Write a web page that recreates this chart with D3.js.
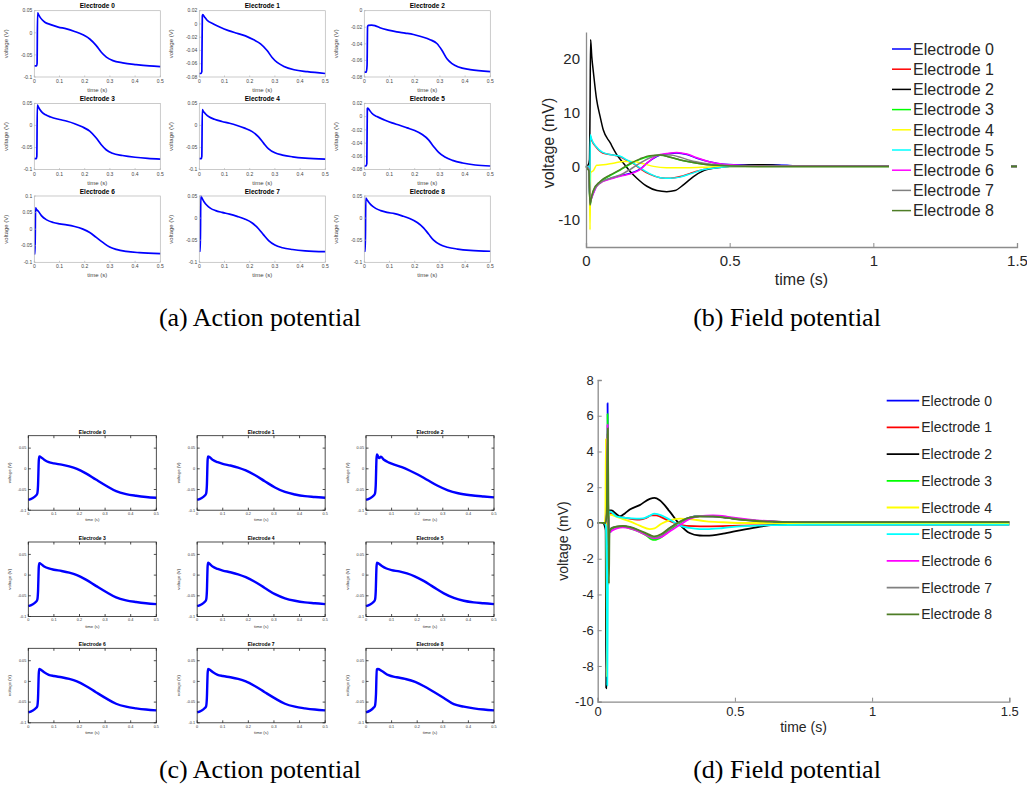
<!DOCTYPE html>
<html>
<head>
<meta charset="utf-8">
<script src="https://cdn.jsdelivr.net/npm/d3@7"></script>
<style>
  body { margin: 0; background: #fff; }
  svg { display: block; }
</style>
</head>
<body>
<script>
// ---------- labels ----------
const electrodeNames = ["Electrode 0","Electrode 1","Electrode 2","Electrode 3","Electrode 4",
                        "Electrode 5","Electrode 6","Electrode 7","Electrode 8"];
const seriesColors = ["#0000ff","#ff0000","#000000","#00ff00","#ffff00","#00ffff","#ff00ff","#808080","#4e7d26"];
const captions = ["(a) Action potential","(b) Field potential","(c) Action potential","(d) Field potential"];

// ---------- panel (a): action potentials, [time s, voltage V] ----------
const apA0 = [[0,-0.075],[0.009,-0.075],[0.011,-0.07],[0.013,0.045],[0.016,0.042],[0.022,0.036],[0.032,0.029],[0.042,0.024],[0.062,0.019],[0.095,0.013],[0.128,0.009],[0.16,0.003],[0.193,-0.0045],[0.22,-0.014],[0.246,-0.029],[0.266,-0.044],[0.286,-0.055],[0.312,-0.063],[0.351,-0.068],[0.404,-0.072],[0.457,-0.075],[0.5,-0.0765]];
const apA1 = [[0,-0.0747],[0.007,-0.0747],[0.010,-0.072],[0.012,0.012],[0.014,0.014],[0.02,0.011],[0.03,0.006],[0.056,0],[0.083,-0.005],[0.116,-0.010],[0.149,-0.014],[0.183,-0.018],[0.216,-0.024],[0.243,-0.030],[0.269,-0.040],[0.289,-0.0505],[0.309,-0.058],[0.336,-0.064],[0.376,-0.069],[0.429,-0.072],[0.5,-0.0747]];
const apA2 = [[0,-0.074],[0.008,-0.074],[0.011,-0.066],[0.013,-0.019],[0.016,-0.0178],[0.029,-0.0174],[0.042,-0.018],[0.062,-0.0206],[0.095,-0.0234],[0.129,-0.0255],[0.162,-0.027],[0.195,-0.0287],[0.228,-0.0315],[0.261,-0.035],[0.288,-0.0396],[0.308,-0.0477],[0.328,-0.058],[0.348,-0.0638],[0.374,-0.068],[0.42,-0.071],[0.5,-0.0735]];
const apA3 = [[0,-0.075],[0.008,-0.075],[0.010,-0.07],[0.012,0.046],[0.015,0.043],[0.022,0.036],[0.032,0.029],[0.045,0.024],[0.065,0.019],[0.1,0.0135],[0.13,0.0095],[0.16,0.004],[0.19,-0.003],[0.22,-0.013],[0.245,-0.028],[0.265,-0.043],[0.285,-0.055],[0.31,-0.063],[0.35,-0.068],[0.4,-0.072],[0.45,-0.0745],[0.5,-0.076]];
const apA4 = [[0,-0.075],[0.008,-0.075],[0.010,-0.07],[0.012,0.036],[0.015,0.033],[0.025,0.026],[0.04,0.019],[0.06,0.014],[0.09,0.009],[0.12,0.005],[0.15,0.0],[0.18,-0.006],[0.21,-0.014],[0.235,-0.026],[0.255,-0.04],[0.275,-0.053],[0.3,-0.062],[0.33,-0.067],[0.37,-0.071],[0.42,-0.074],[0.5,-0.076]];
const apA5 = [[0,-0.0745],[0.007,-0.0745],[0.010,-0.071],[0.012,0.012],[0.014,0.013],[0.02,0.010],[0.03,0.005],[0.05,0.0],[0.08,-0.005],[0.11,-0.0095],[0.14,-0.013],[0.17,-0.017],[0.2,-0.021],[0.23,-0.027],[0.255,-0.035],[0.275,-0.045],[0.295,-0.054],[0.32,-0.061],[0.35,-0.066],[0.39,-0.07],[0.44,-0.073],[0.5,-0.0745]];
const apA6 = [[0,-0.075],[0.003,-0.075],[0.005,0.064],[0.008,0.06],[0.016,0.054],[0.029,0.04],[0.049,0.028],[0.075,0.02],[0.101,0.016],[0.128,0.013],[0.16,0.008],[0.193,0],[0.22,-0.01],[0.246,-0.025],[0.272,-0.04],[0.299,-0.054],[0.325,-0.061],[0.364,-0.067],[0.417,-0.071],[0.5,-0.074]];
const apA7 = [[0,-0.075],[0.004,-0.075],[0.006,0.05],[0.01,0.046],[0.02,0.036],[0.03,0.029],[0.045,0.022],[0.065,0.017],[0.09,0.013],[0.12,0.009],[0.15,0.004],[0.18,-0.002],[0.21,-0.011],[0.235,-0.024],[0.255,-0.038],[0.275,-0.051],[0.3,-0.061],[0.33,-0.067],[0.37,-0.071],[0.42,-0.074],[0.5,-0.076]];
const apA8 = [[0,-0.075],[0.004,-0.075],[0.006,0.045],[0.01,0.042],[0.02,0.034],[0.03,0.028],[0.045,0.022],[0.065,0.017],[0.09,0.013],[0.12,0.01],[0.15,0.005],[0.18,-0.001],[0.21,-0.01],[0.235,-0.022],[0.255,-0.036],[0.275,-0.05],[0.3,-0.06],[0.33,-0.066],[0.37,-0.07],[0.42,-0.073],[0.5,-0.075]];
const apASeries = [apA0, apA1, apA2, apA3, apA4, apA5, apA6, apA7, apA8];
const apAYDomains = [[-0.1,0.05],[-0.08,0.02],[-0.08,0],[-0.1,0.05],[-0.1,0.05],[-0.08,0.02],[-0.1,0.1],[-0.1,0.05],[-0.1,0.05]];
const apAYTicks = [[-0.1,-0.05,0,0.05],[-0.08,-0.06,-0.04,-0.02,0,0.02],[-0.08,-0.06,-0.04,-0.02,0],
                   [-0.1,-0.05,0,0.05],[-0.1,-0.05,0,0.05],[-0.08,-0.06,-0.04,-0.02,0,0.02],
                   [-0.1,-0.05,0,0.05,0.1],[-0.1,-0.05,0,0.05],[-0.1,-0.05,0,0.05]];
const apXTicks = [0,0.1,0.2,0.3,0.4,0.5];

// ---------- panel (c): action potentials, [time s, voltage V] ----------
const apC0 = [[0,-0.075],[0.016,-0.071],[0.029,-0.065],[0.035,-0.06],[0.038,-0.04],[0.041,0.02],[0.043,0.03],[0.047,0.029],[0.062,0.022],[0.08,0.016],[0.1,0.013],[0.13,0.01],[0.16,0.006],[0.19,0.0],[0.225,-0.011],[0.264,-0.026],[0.304,-0.041],[0.343,-0.054],[0.382,-0.061],[0.421,-0.065],[0.46,-0.068],[0.5,-0.07]];
const apC1 = [[0,-0.075],[0.016,-0.071],[0.029,-0.065],[0.035,-0.06],[0.038,-0.04],[0.041,0.022],[0.043,0.03],[0.047,0.029],[0.062,0.021],[0.08,0.016],[0.1,0.012],[0.13,0.008],[0.16,0.003],[0.19,-0.004],[0.225,-0.015],[0.264,-0.03],[0.304,-0.045],[0.343,-0.056],[0.382,-0.062],[0.421,-0.066],[0.46,-0.068],[0.5,-0.07]];
const apC2 = [[0,-0.075],[0.016,-0.071],[0.029,-0.065],[0.035,-0.06],[0.038,-0.04],[0.041,0.025],[0.043,0.035],[0.047,0.03],[0.052,0.026],[0.058,0.029],[0.07,0.022],[0.09,0.015],[0.11,0.01],[0.14,0.004],[0.17,-0.004],[0.2,-0.013],[0.24,-0.027],[0.28,-0.041],[0.32,-0.052],[0.36,-0.059],[0.41,-0.064],[0.46,-0.067],[0.5,-0.069]];
const apC3 = [[0,-0.075],[0.016,-0.071],[0.029,-0.065],[0.035,-0.06],[0.038,-0.04],[0.041,0.02],[0.043,0.029],[0.047,0.028],[0.062,0.021],[0.08,0.016],[0.1,0.013],[0.13,0.01],[0.16,0.006],[0.19,0.0],[0.225,-0.011],[0.264,-0.026],[0.304,-0.041],[0.343,-0.054],[0.382,-0.061],[0.421,-0.065],[0.46,-0.068],[0.5,-0.07]];
const apC4 = [[0,-0.075],[0.016,-0.071],[0.029,-0.065],[0.035,-0.06],[0.038,-0.04],[0.041,0.022],[0.043,0.03],[0.047,0.028],[0.062,0.02],[0.08,0.015],[0.1,0.011],[0.13,0.007],[0.16,0.002],[0.19,-0.005],[0.225,-0.016],[0.264,-0.031],[0.304,-0.046],[0.343,-0.056],[0.382,-0.062],[0.421,-0.066],[0.46,-0.068],[0.5,-0.07]];
const apC5 = [[0,-0.075],[0.016,-0.071],[0.029,-0.065],[0.035,-0.06],[0.038,-0.04],[0.041,0.02],[0.043,0.03],[0.047,0.029],[0.062,0.022],[0.08,0.016],[0.1,0.012],[0.13,0.009],[0.16,0.004],[0.19,-0.003],[0.225,-0.014],[0.264,-0.029],[0.304,-0.044],[0.343,-0.055],[0.382,-0.062],[0.421,-0.066],[0.46,-0.068],[0.5,-0.07]];
const apC6 = [[0,-0.075],[0.016,-0.071],[0.029,-0.065],[0.035,-0.06],[0.038,-0.04],[0.041,0.02],[0.043,0.03],[0.047,0.029],[0.062,0.022],[0.08,0.016],[0.1,0.013],[0.13,0.01],[0.16,0.006],[0.19,0.0],[0.225,-0.011],[0.264,-0.026],[0.304,-0.041],[0.343,-0.054],[0.382,-0.061],[0.421,-0.065],[0.46,-0.068],[0.5,-0.07]];
const apC7 = [[0,-0.075],[0.016,-0.071],[0.029,-0.065],[0.035,-0.06],[0.038,-0.04],[0.041,0.02],[0.043,0.03],[0.047,0.029],[0.062,0.022],[0.08,0.016],[0.1,0.013],[0.13,0.01],[0.16,0.006],[0.19,0.0],[0.225,-0.011],[0.264,-0.026],[0.304,-0.041],[0.343,-0.054],[0.382,-0.061],[0.421,-0.065],[0.46,-0.068],[0.5,-0.07]];
const apC8 = [[0,-0.0746],[0.016,-0.0706],[0.029,-0.064],[0.035,-0.059],[0.039,-0.031],[0.042,0.029],[0.046,0.030],[0.062,0.025],[0.088,0.015],[0.12,0.010],[0.153,0.006],[0.192,-0.001],[0.225,-0.011],[0.264,-0.025],[0.304,-0.040],[0.343,-0.055],[0.382,-0.061],[0.421,-0.065],[0.46,-0.068],[0.5,-0.070]];
const apCSeries = [apC0, apC1, apC2, apC3, apC4, apC5, apC6, apC7, apC8];
const apCYDomain = [-0.1, 0.08];
const apCYTicks = [-0.1,-0.05,0,0.05];

// ---------- panel (b): field potentials, [time s, voltage mV] ----------
const fpB0 = [[0,0],[0.010,-0.5],[0.014,-6.6],[0.016,-6.3],[0.026,-4.9],[0.037,-3.6],[0.06,-2.7],[0.095,-2.1],[0.13,-1.6],[0.165,-1.1],[0.188,-0.5],[0.212,0.6],[0.235,1.5],[0.258,2.1],[0.281,2.3],[0.316,2.5],[0.351,2.2],[0.386,1.5],[0.433,0.8],[0.479,0.4],[0.55,0.25],[0.62,0.3],[0.7,0.2],[0.75,0.05],[1.5,0]];
const fpB1 = [[0,0],[0.010,0],[0.013,-5],[0.015,5.6],[0.02,4.8],[0.035,3.6],[0.058,2.5],[0.095,2.1],[0.119,1.8],[0.142,1.1],[0.165,0.5],[0.188,-0.4],[0.223,-1.5],[0.258,-2.1],[0.293,-2.2],[0.328,-1.9],[0.363,-1.3],[0.41,-0.6],[0.467,-0.2],[0.5,0],[1.5,0]];
const fpB2 = [[0,0],[0.008,0.3],[0.012,1.2],[0.014,10],[0.016,23.6],[0.02,20.5],[0.026,17.4],[0.037,12.4],[0.049,9.3],[0.06,6.8],[0.084,4.4],[0.107,2.2],[0.13,0.6],[0.153,-0.9],[0.177,-2.2],[0.212,-3.7],[0.247,-4.5],[0.281,-4.7],[0.31,-4.5],[0.34,-3.4],[0.374,-1.9],[0.41,-0.8],[0.456,-0.2],[0.5,0],[0.6,0.3],[0.65,0.25],[0.7,0.05],[1.5,0.05]];
const fpB3 = [[0,0],[0.010,-0.6],[0.014,-7.4],[0.016,-6.8],[0.026,-4.5],[0.049,-2.9],[0.084,-1.7],[0.119,-0.7],[0.153,0.4],[0.188,1.3],[0.223,1.9],[0.258,2.05],[0.293,1.7],[0.328,1.2],[0.363,0.8],[0.41,0.4],[0.467,0.15],[0.5,0.05],[1.5,0]];
const fpB4 = [[0,0],[0.008,-0.3],[0.012,-1.2],[0.014,-11.8],[0.016,-1.2],[0.026,-0.75],[0.037,0.2],[0.06,0.3],[0.095,0.6],[0.13,0.9],[0.165,0.9],[0.2,0.5],[0.235,0],[0.28,-0.25],[0.351,-0.25],[0.43,-0.1],[0.5,0],[1.5,0]];
const fpB5 = [[0,0],[0.010,0],[0.013,-6],[0.015,5.9],[0.02,5.0],[0.035,3.7],[0.058,2.6],[0.095,2.1],[0.119,1.9],[0.142,1.2],[0.165,0.6],[0.188,-0.3],[0.223,-1.4],[0.258,-2.1],[0.293,-2.2],[0.328,-2.0],[0.363,-1.4],[0.41,-0.6],[0.467,-0.2],[0.5,0],[1.5,0]];
const fpB6 = [[0,0],[0.010,-0.5],[0.014,-6.8],[0.016,-6.5],[0.026,-5.0],[0.037,-3.7],[0.06,-2.8],[0.095,-2.2],[0.13,-1.7],[0.165,-1.2],[0.188,-0.6],[0.212,0.6],[0.235,1.6],[0.258,2.2],[0.281,2.4],[0.316,2.6],[0.351,2.3],[0.386,1.6],[0.433,0.8],[0.479,0.4],[0.5,0.3],[0.595,0.1],[0.7,0.05],[1.5,0]];
const fpB7 = [[0,0],[0.010,-0.5],[0.014,-7],[0.016,-6.5],[0.026,-4.7],[0.049,-3.1],[0.084,-2.2],[0.119,-1.6],[0.153,-0.6],[0.188,0.6],[0.223,1.6],[0.258,2.1],[0.293,2.1],[0.328,1.7],[0.363,1.1],[0.41,0.6],[0.467,0.25],[0.5,0.15],[0.6,0.05],[1.5,0]];
const fpB8 = [[0,0],[0.005,-0.5],[0.010,-0.8],[0.014,-7.2],[0.016,-6.6],[0.026,-4.4],[0.049,-2.8],[0.084,-1.6],[0.119,-0.6],[0.153,0.5],[0.188,1.4],[0.223,2.0],[0.258,2.1],[0.293,1.7],[0.328,1.2],[0.363,0.8],[0.41,0.4],[0.467,0.15],[0.5,0.08],[0.6,0],[1.5,0]];
const fpBSeries = [fpB0, fpB1, fpB2, fpB3, fpB4, fpB5, fpB6, fpB7, fpB8];
const fpBYTicks = [-10, 0, 10, 20];

// ---------- panel (d): field potentials, [time s, voltage mV] ----------
const fpD0 = [[0,0],[0.025,0],[0.031,-0.3],[0.034,-3],[0.036,6.7],[0.038,1],[0.041,-0.3],[0.046,-0.5],[0.055,-0.3],[0.068,-0.22],[0.092,-0.19],[0.117,-0.25],[0.153,-0.47],[0.177,-0.65],[0.195,-0.8],[0.207,-0.85],[0.232,-0.7],[0.262,-0.3],[0.3,0.05],[0.335,0.3],[0.371,0.38],[0.42,0.37],[0.47,0.3],[0.518,0.2],[0.579,0.12],[0.64,0.07],[0.7,0.04],[1.5,0.04]];
const fpD1 = [[0,0],[0.025,0],[0.031,-0.2],[0.034,2],[0.036,5],[0.038,-2],[0.04,0.3],[0.045,0.56],[0.068,0.4],[0.104,0.28],[0.153,0.19],[0.177,0.28],[0.195,0.43],[0.214,0.42],[0.25,0.19],[0.3,-0.1],[0.35,-0.18],[0.397,-0.19],[0.518,-0.15],[0.64,-0.11],[0.76,-0.1],[1.5,-0.1]];
const fpD2 = [[0,0],[0.02,0],[0.026,-0.2],[0.029,-0.4],[0.031,-9.25],[0.034,-1],[0.037,0.6],[0.043,0.7],[0.05,0.7],[0.068,0.5],[0.08,0.37],[0.1,0.55],[0.117,0.75],[0.153,1.0],[0.19,1.35],[0.207,1.4],[0.226,1.27],[0.262,0.65],[0.3,-0.1],[0.335,-0.56],[0.371,-0.7],[0.397,-0.71],[0.457,-0.6],[0.518,-0.41],[0.579,-0.24],[0.64,-0.11],[0.7,-0.06],[0.76,-0.04],[1.5,-0.04]];
const fpD3 = [[0,0],[0.028,0],[0.033,0.5],[0.036,6.1],[0.038,1],[0.04,-0.5],[0.043,-0.45],[0.055,-0.3],[0.068,-0.22],[0.092,-0.2],[0.117,-0.3],[0.153,-0.5],[0.177,-0.7],[0.195,-0.9],[0.207,-0.95],[0.232,-0.8],[0.262,-0.4],[0.3,0.0],[0.335,0.28],[0.371,0.38],[0.42,0.4],[0.47,0.33],[0.518,0.22],[0.579,0.13],[0.64,0.08],[0.7,0.05],[1.5,0.05]];
const fpD4 = [[0,0],[0.025,0],[0.028,0.5],[0.030,4.7],[0.032,-2],[0.034,-8.6],[0.036,-1],[0.039,0.3],[0.043,0.47],[0.08,0.28],[0.117,0.09],[0.153,-0.15],[0.19,-0.34],[0.207,-0.3],[0.232,-0.04],[0.262,0.15],[0.3,0.24],[0.335,0.22],[0.397,0.09],[0.457,0.04],[0.518,0.0],[1.5,0]];
const fpD5 = [[0,0],[0.025,0],[0.03,-0.2],[0.033,-3],[0.035,-9.1],[0.037,-3.4],[0.039,0.3],[0.043,0.65],[0.05,0.6],[0.068,0.37],[0.104,0.28],[0.141,0.24],[0.165,0.26],[0.19,0.41],[0.207,0.52],[0.232,0.43],[0.262,0.19],[0.3,-0.15],[0.335,-0.28],[0.371,-0.34],[0.397,-0.34],[0.457,-0.28],[0.518,-0.19],[0.64,-0.12],[0.76,-0.1],[1.5,-0.1]];
const fpD6 = [[0,0],[0.028,0],[0.033,0.5],[0.036,5.5],[0.038,1],[0.04,-0.5],[0.045,-0.5],[0.055,-0.4],[0.07,-0.3],[0.092,-0.25],[0.117,-0.3],[0.153,-0.5],[0.177,-0.68],[0.195,-0.82],[0.207,-0.86],[0.232,-0.78],[0.262,-0.48],[0.3,-0.1],[0.335,0.22],[0.371,0.38],[0.42,0.42],[0.47,0.36],[0.518,0.25],[0.579,0.15],[0.64,0.09],[0.7,0.06],[1.5,0.05]];
const fpD7 = [[0,0],[0.028,0],[0.033,0.5],[0.036,5.0],[0.038,0.5],[0.04,-1.5],[0.043,-0.4],[0.055,-0.25],[0.068,-0.2],[0.092,-0.18],[0.117,-0.25],[0.153,-0.45],[0.177,-0.62],[0.195,-0.76],[0.207,-0.8],[0.232,-0.68],[0.262,-0.32],[0.3,0.05],[0.335,0.3],[0.371,0.38],[0.42,0.37],[0.47,0.3],[0.518,0.2],[0.579,0.12],[0.64,0.07],[0.7,0.05],[1.5,0.05]];
const fpD8 = [[0,0],[0.028,0],[0.033,0.5],[0.037,5.3],[0.039,1],[0.041,-3.4],[0.043,-0.5],[0.05,-0.3],[0.068,-0.2],[0.092,-0.17],[0.117,-0.22],[0.153,-0.42],[0.177,-0.58],[0.195,-0.7],[0.207,-0.75],[0.232,-0.62],[0.262,-0.28],[0.3,0.08],[0.335,0.3],[0.371,0.36],[0.42,0.35],[0.47,0.28],[0.518,0.19],[0.579,0.11],[0.64,0.07],[0.7,0.05],[1.5,0.05]];
const fpDSeries = [fpD0, fpD1, fpD2, fpD3, fpD4, fpD5, fpD6, fpD7, fpD8];
const fpDYTicks = [-10,-8,-6,-4,-2,0,2,4,6,8];
const fpXTicks = [0, 0.5, 1, 1.5];

// ---------- drawing ----------
const svg = d3.select("body").append("svg").attr("width", 1027).attr("height", 789);
const SANS = "'Liberation Sans', Arial, Helvetica, sans-serif";
const fmt = v => String(+v.toFixed(3));

// one small action-potential plot (panels a and c)
function miniPlot(g, o) {
  const x = d3.scaleLinear().domain([0, 0.5]).range([o.left, o.left + o.w]);
  const y = d3.scaleLinear().domain(o.yDomain).range([o.top + o.h, o.top]);
  const bottom = o.top + o.h, right = o.left + o.w;

  const line = d3.line().x(d => x(d[0])).y(d => y(d[1])).curve(d3.curveMonotoneX);
  g.append("path").datum(o.data).attr("d", line)
    .attr("fill", "none").attr("stroke", "#0000ff").attr("stroke-width", o.lw)
    .attr("stroke-linejoin", "round");

  // frame
  g.append("rect").attr("x", o.left).attr("y", o.top).attr("width", o.w).attr("height", o.h)
    .attr("fill", "none").attr("stroke", o.frame).attr("stroke-width", o.frameW);

  // ticks drawn inward
  const tk = g.append("g").attr("stroke", o.frame).attr("stroke-width", o.frameW);
  apXTicks.forEach(t => {
    tk.append("line").attr("x1", x(t)).attr("x2", x(t)).attr("y1", bottom).attr("y2", bottom - o.tick);
    if (o.allSides) tk.append("line").attr("x1", x(t)).attr("x2", x(t)).attr("y1", o.top).attr("y2", o.top + o.tick);
  });
  o.yTicks.forEach(v => {
    tk.append("line").attr("x1", o.left).attr("x2", o.left + o.tick).attr("y1", y(v)).attr("y2", y(v));
    if (o.allSides) tk.append("line").attr("x1", right).attr("x2", right - o.tick).attr("y1", y(v)).attr("y2", y(v));
  });

  const txt = g.append("g").attr("font-family", SANS).attr("fill", o.textFill);
  apXTicks.forEach(t => txt.append("text").attr("x", x(t)).attr("y", bottom + o.tickFs + 1)
    .attr("text-anchor", "middle").attr("font-size", o.tickFs).text(fmt(t)));
  o.yTicks.forEach(v => txt.append("text").attr("x", o.left - 2).attr("y", y(v) + o.tickFs * 0.35)
    .attr("text-anchor", "end").attr("font-size", o.tickFs).text(fmt(v)));
  txt.append("text").attr("x", (o.left + right) / 2).attr("y", bottom + o.labelDy)
    .attr("text-anchor", "middle").attr("font-size", o.labelFs).text("time (s)");
  txt.append("text").attr("transform", `translate(${o.left - o.ylabelDx},${(o.top + bottom) / 2}) rotate(-90)`)
    .attr("text-anchor", "middle").attr("font-size", o.labelFs).text("voltage (V)");
  g.append("text").attr("x", (o.left + right) / 2).attr("y", o.top - o.titleDy)
    .attr("text-anchor", "middle").attr("font-family", SANS).attr("font-weight", "bold")
    .attr("font-size", o.titleFs).attr("fill", "#000").text(o.title);
}

// panel (a)
const gA = svg.append("g");
apASeries.forEach((data, i) => {
  const r = Math.floor(i / 3), c = i % 3;
  miniPlot(gA.append("g"), {
    left: 34.3 + c * 165, top: 10.7 + r * 92.65, w: 126, h: 66.3,
    data, yDomain: apAYDomains[i], yTicks: apAYTicks[i], title: electrodeNames[i],
    lw: 1.7, frame: "#b4b4b4", frameW: 0.7, tick: 1.5, allSides: false,
    tickFs: 5, labelFs: 6, labelDy: 15, ylabelDx: 26, titleFs: 6.5, titleDy: 2.5, textFill: "#444"
  });
});

// panel (c)
const gC = svg.append("g");
apCSeries.forEach((data, i) => {
  const r = Math.floor(i / 3), c = i % 3;
  miniPlot(gC.append("g"), {
    left: 28.3 + c * 168.85, top: 435.7 + r * 106.3, w: 128, h: 74.5,
    data, yDomain: apCYDomain, yTicks: apCYTicks, title: electrodeNames[i],
    lw: 2.4, frame: "#222", frameW: 0.8, tick: 2.5, allSides: true,
    tickFs: 3.8, labelFs: 4.3, labelDy: 11, ylabelDx: 17, titleFs: 5, titleDy: 2.2, textFill: "#333"
  });
});

// field potential plot (panels b and d)
function fieldPlot(g, o) {
  const x = d3.scaleLinear().domain([0, 1.5]).range([o.left, o.right]);
  const y = d3.scaleLinear().domain(o.yDomain).range([o.bottom, o.top]);
  const line = d3.line().x(d => x(d[0])).y(d => y(d[1])).curve(d3.curveMonotoneX);

  o.series.forEach((data, i) => {
    g.append("path").datum(data).attr("d", line).attr("fill", "none")
      .attr("stroke", seriesColors[i]).attr("stroke-width", o.lw).attr("stroke-linejoin", "round");
  });

  const axisColor = "#8c8c8c", textColor = "#262626";
  const xAxis = d3.axisBottom(x).tickValues(fpXTicks).tickSize(-4).tickPadding(o.xPad).tickFormat(fmt);
  const yAxis = d3.axisLeft(y).tickValues(o.yTicks).tickSize(o.yTickSize).tickPadding(o.yPad).tickFormat(fmt);
  [g.append("g").attr("transform", `translate(0,${o.bottom})`).call(xAxis),
   g.append("g").attr("transform", `translate(${o.left},0)`).call(yAxis)].forEach(ax => {
    ax.select(".domain").attr("stroke", axisColor).attr("stroke-width", 1.3);
    ax.selectAll(".tick line").attr("stroke", axisColor).attr("stroke-width", 1);
    ax.selectAll(".tick text").attr("font-family", SANS).attr("font-size", o.tickFs).attr("fill", textColor);
  });

  g.append("text").attr("x", (o.left + o.right) / 2).attr("y", o.xLabelY)
    .attr("text-anchor", "middle").attr("font-family", SANS).attr("font-size", o.labelFs)
    .attr("fill", textColor).text("time (s)");
  g.append("text").attr("transform", `translate(${o.yLabelX},${o.yLabelY}) rotate(-90)`)
    .attr("text-anchor", "middle").attr("font-family", SANS).attr("font-size", o.labelFs)
    .attr("fill", textColor).text("voltage (mV)");

  // legend
  const lg = g.append("g");
  if (o.legendBg) {
    lg.append("rect").attr("x", o.legBox[0]).attr("y", o.legBox[1])
      .attr("width", o.legBox[2]).attr("height", o.legBox[3]).attr("fill", "#fff");
  }
  electrodeNames.forEach((name, i) => {
    const yy = o.legY0 + i * o.legDy;
    lg.append("line").attr("x1", o.legX).attr("x2", o.legX + o.legLen).attr("y1", yy).attr("y2", yy)
      .attr("stroke", seriesColors[i]).attr("stroke-width", o.lw);
    lg.append("text").attr("x", o.legX + o.legLen + 2).attr("y", yy + o.legFs * 0.36)
      .attr("font-family", SANS).attr("font-size", o.legFs).attr("fill", textColor).text(name);
  });
}

fieldPlot(svg.append("g"), {
  left: 586, right: 1017, top: 32, bottom: 247, yDomain: [-15, 25], yTicks: fpBYTicks,
  series: fpBSeries, lw: 1.5, tickFs: 15, labelFs: 16, xPad: 8, yPad: 6, yTickSize: 0,
  xLabelY: 285, yLabelX: 554, yLabelY: 143,
  legendBg: true, legBox: [889, 38, 122, 184], legX: 892, legLen: 19, legY0: 49, legDy: 20.2, legFs: 16
});

fieldPlot(svg.append("g"), {
  left: 597.7, right: 1009.3, top: 380, bottom: 701.7, yDomain: [-10, 8], yTicks: fpDYTicks,
  series: fpDSeries, lw: 1.8, tickFs: 13, labelFs: 14, xPad: 5, yPad: 4, yTickSize: -4,
  xLabelY: 732, yLabelX: 568, yLabelY: 541,
  legendBg: false, legX: 886.7, legLen: 32.5, legY0: 400.7, legDy: 26.7, legFs: 14
});

// sub-figure captions
const capPos = [[260, 326], [787, 326], [260, 778], [787, 778]];
captions.forEach((c, i) => {
  svg.append("text").attr("x", capPos[i][0]).attr("y", capPos[i][1]).attr("text-anchor", "middle")
    .attr("font-family", "'Liberation Serif', 'Times New Roman', serif").attr("font-size", 26)
    .attr("fill", "#000").text(c);
});
</script>
</body>
</html>
